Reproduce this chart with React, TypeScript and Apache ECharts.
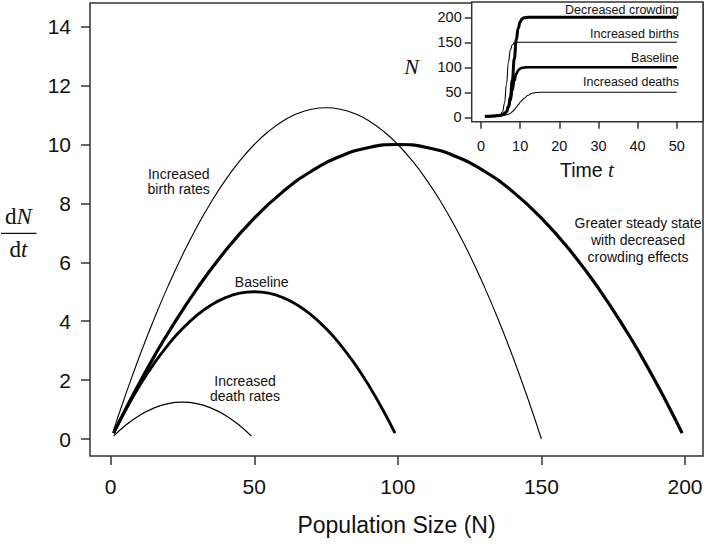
import React, { useEffect, useRef } from "react";
import * as echarts from "echarts";

// ---------- data ----------
const popTicks = [0, 50, 100, 150, 200];
const rateTicks = [0, 2, 4, 6, 8, 10, 12, 14];
const timeTicks = [0, 10, 20, 30, 40, 50];
const sizeTicks = [0, 50, 100, 150, 200];

// main panel: dN/dt against N
const deathN = [1, 5, 10, 15, 20, 25, 30, 35, 40, 45, 49];
const deathRate = [0.1, 0.45, 0.8, 1.05, 1.2, 1.25, 1.2, 1.05, 0.8, 0.45, 0.1];

const baseN = [1, 5, 10, 15, 20, 25, 30, 35, 40, 45, 50, 55, 60, 65, 70, 75, 80, 85, 90, 95, 99];
const baseRate = [0.2, 0.95, 1.8, 2.55, 3.2, 3.75, 4.2, 4.55, 4.8, 4.95, 5.0, 4.95, 4.8, 4.55, 4.2, 3.75, 3.2, 2.55, 1.8, 0.95, 0.2];

const birthN = [1, 5, 10, 15, 20, 25, 30, 35, 40, 45, 50, 55, 60, 65, 70, 75, 80, 85, 90, 95, 100, 105, 110, 115, 120, 125, 130, 135, 140, 145, 150];
const birthRate = [0.3, 1.45, 2.8, 4.05, 5.2, 6.25, 7.2, 8.05, 8.8, 9.45, 10.0, 10.45, 10.8, 11.05, 11.2, 11.25, 11.2, 11.05, 10.8, 10.45, 10.0, 9.45, 8.8, 8.05, 7.2, 6.25, 5.2, 4.05, 2.8, 1.45, 0];

const crowdN = [1, 5, 10, 15, 20, 30, 40, 50, 60, 70, 80, 90, 100, 110, 120, 130, 140, 150, 160, 170, 180, 185, 190, 195, 199];
const crowdRate = [0.2, 0.98, 1.9, 2.78, 3.6, 5.1, 6.4, 7.5, 8.4, 9.1, 9.6, 9.9, 10.0, 9.9, 9.6, 9.1, 8.4, 7.5, 6.4, 5.1, 3.6, 2.78, 1.9, 0.98, 0.2];

// inset: N against time t
const insetTime = [1, 2, 3, 4, 5, 5.5, 6, 6.5, 7, 7.5, 8, 8.5, 9, 9.5, 10, 10.5, 11, 12, 13, 14, 15, 20, 30, 40, 50];
const insetCrowd = [2, 2, 2.5, 3, 4, 5, 7, 11, 21, 40, 74, 117, 155, 178, 191, 197, 199, 200, 200, 200, 200, 200, 200, 200, 200];
const insetBirth = [2, 2, 2.5, 3.5, 6, 11, 28, 66, 110, 135, 145, 149, 150, 150, 150, 150, 150, 150, 150, 150, 150, 150, 150, 150, 150];
const insetBase = [2, 2, 2.5, 3, 4, 6, 8, 11, 20, 34, 54, 73, 87, 94, 97.5, 99, 99.6, 100, 100, 100, 100, 100, 100, 100, 100];
const insetDeath = [2, 2, 2.2, 2.5, 3, 3.5, 4, 5, 6, 8, 11, 15, 20, 25, 30, 34, 38, 44, 48, 49.5, 50, 50, 50, 50, 50];

const insetLabels = ["Decreased crowding", "Increased births", "Baseline", "Increased deaths"];

const SANS = "'Liberation Sans', Arial, Helvetica, sans-serif";
const SERIF = "'Liberation Serif', 'Times New Roman', serif";
const INK = "#111";
const FRAME = "#333";

function pairs(xs: number[], ys: number[]) {
  return xs.map((x, i) => [x, ys[i]]);
}

export default function App() {
  const ref = useRef<HTMLDivElement>(null);

  useEffect(() => {
    if (!ref.current) return;
    const chart = echarts.init(ref.current, undefined, { renderer: "svg" });

    const tickStyle = { color: FRAME, width: 1.5 };

    const lineSeries = (
      name: string,
      data: number[][],
      width: number,
      axis: number,
      monotone = false
    ) => ({
      name,
      type: "line",
      xAxisIndex: axis,
      yAxisIndex: axis,
      data,
      smooth: monotone ? 0.5 : true,
      smoothMonotone: monotone ? "x" : undefined,
      showSymbol: false,
      symbol: "none",
      lineStyle: { color: "#000", width },
      silent: true,
    });

    const txt = (
      text: string,
      x: number,
      y: number,
      size: number,
      align: string = "center",
      lineHeight?: number
    ) => ({
      type: "text",
      x,
      y,
      silent: true,
      style: {
        text,
        align,
        verticalAlign: "middle",
        fontFamily: SANS,
        fontSize: size,
        lineHeight: lineHeight ?? size,
        fill: INK,
      },
    });

    const axisCommon = {
      type: "value",
      axisLine: { show: false, onZero: false },
      splitLine: { show: false },
    };

    const serifRich = (size: number) => ({
      a: { fontFamily: SERIF, fontSize: size, fill: INK },
      b: { fontFamily: SERIF, fontSize: size, fontStyle: "italic", fill: INK },
    });

    chart.setOption({
      animation: false,
      backgroundColor: "#fff",
      grid: [
        {
          left: 90,
          top: 3,
          width: 613,
          height: 453,
          show: true,
          borderColor: FRAME,
          borderWidth: 1.5,
          backgroundColor: "transparent",
        },
        {
          left: 471.7,
          top: 2,
          width: 231.3,
          height: 119.7,
          show: true,
          borderColor: FRAME,
          borderWidth: 1.5,
          backgroundColor: "#fff",
        },
      ],
      xAxis: [
        {
          ...axisCommon,
          gridIndex: 0,
          min: -7.21,
          max: 206.27,
          axisTick: { show: true, inside: false, length: 9, customValues: popTicks, lineStyle: tickStyle },
          axisLabel: {
            customValues: popTicks,
            fontSize: 21,
            fontFamily: SANS,
            color: INK,
            margin: 20,
          },
        },
        {
          ...axisCommon,
          gridIndex: 1,
          min: -2.38,
          max: 56.7,
          axisTick: { show: true, inside: false, length: 7, customValues: timeTicks, lineStyle: tickStyle },
          axisLabel: {
            customValues: timeTicks,
            fontSize: 14.5,
            fontFamily: SANS,
            color: INK,
            margin: 17,
          },
        },
      ],
      yAxis: [
        {
          ...axisCommon,
          gridIndex: 0,
          min: -0.577,
          max: 14.805,
          axisTick: { show: true, inside: false, length: 9, customValues: rateTicks, lineStyle: tickStyle },
          axisLabel: {
            customValues: rateTicks,
            fontSize: 21,
            fontFamily: SANS,
            color: INK,
            margin: 19,
          },
        },
        {
          ...axisCommon,
          gridIndex: 1,
          min: -8.8,
          max: 230.6,
          axisTick: { show: true, inside: false, length: 7, customValues: sizeTicks, lineStyle: tickStyle },
          axisLabel: {
            customValues: sizeTicks,
            fontSize: 14.5,
            fontFamily: SANS,
            color: INK,
            margin: 10,
          },
        },
      ],
      series: [
        lineSeries("Increased death rates", pairs(deathN, deathRate), 1.2, 0),
        lineSeries("Baseline", pairs(baseN, baseRate), 2.8, 0),
        lineSeries("Increased birth rates", pairs(birthN, birthRate), 1.1, 0),
        lineSeries("Decreased crowding", pairs(crowdN, crowdRate), 3.2, 0),
        lineSeries("Inset increased deaths", pairs(insetTime, insetDeath), 1.1, 1, true),
        lineSeries("Inset baseline", pairs(insetTime, insetBase), 2.6, 1, true),
        lineSeries("Inset increased births", pairs(insetTime, insetBirth), 1.1, 1, true),
        lineSeries("Inset decreased crowding", pairs(insetTime, insetCrowd), 3.0, 1, true),
      ],
      graphic: [
        // main annotations
        txt("Increased\nbirth rates", 178.7, 181, 14, "center", 15),
        txt("Baseline", 261.7, 281.7, 14),
        txt("Increased\ndeath rates", 245, 388.7, 14, "center", 15),
        txt("Greater steady state\nwith decreased\ncrowding effects", 638, 240, 14, "center", 16.7),
        // x axis title
        txt("Population Size (N)", 396.5, 525, 23),
        // inset curve labels
        txt(insetLabels[0], 679, 9.8, 12.5, "right"),
        txt(insetLabels[1], 679, 33.5, 12.5, "right"),
        txt(insetLabels[2], 679, 58.3, 12.5, "right"),
        txt(insetLabels[3], 679, 82.3, 12.5, "right"),
        // y axis title dN/dt
        {
          type: "text",
          x: 18.5,
          y: 216,
          silent: true,
          style: { text: "{a|d}{b|N}", align: "center", verticalAlign: "middle", rich: serifRich(23) },
        },
        {
          type: "line",
          silent: true,
          shape: { x1: 1, y1: 233.3, x2: 36.5, y2: 233.3 },
          style: { stroke: INK, lineWidth: 1.3 },
        },
        {
          type: "text",
          x: 18.5,
          y: 249.5,
          silent: true,
          style: { text: "{a|d}{b|t}", align: "center", verticalAlign: "middle", rich: serifRich(23) },
        },
        // inset axis titles
        {
          type: "text",
          x: 411.7,
          y: 66.7,
          silent: true,
          style: {
            text: "N",
            align: "center",
            verticalAlign: "middle",
            fontFamily: SERIF,
            fontStyle: "italic",
            fontSize: 22,
            fill: INK,
          },
        },
        {
          type: "text",
          x: 587,
          y: 170,
          silent: true,
          style: {
            text: "{a|Time }{b|t}",
            align: "center",
            verticalAlign: "middle",
            rich: {
              a: { fontFamily: SANS, fontSize: 19.5, fill: INK },
              b: { fontFamily: SERIF, fontSize: 21, fontStyle: "italic", fill: INK },
            },
          },
        },
      ],
    });

    return () => chart.dispose();
  }, []);

  return (
    <div
      ref={ref}
      style={{ position: "absolute", left: 0, top: 0, width: 709, height: 545, background: "#fff" }}
    />
  );
}
